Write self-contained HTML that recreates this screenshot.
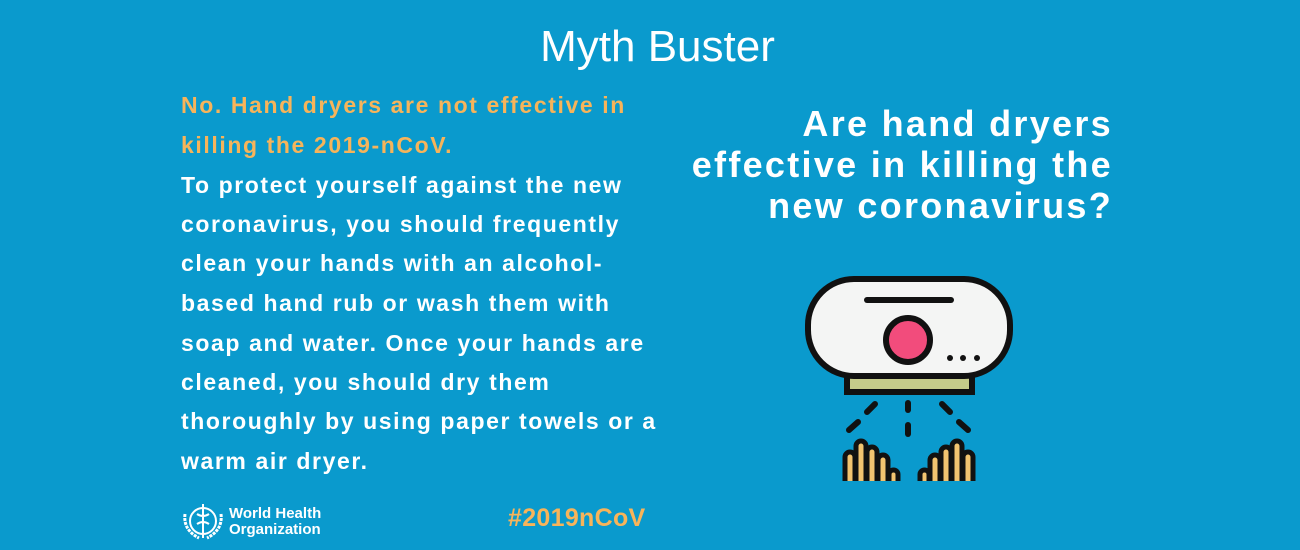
<!DOCTYPE html>
<html><head><meta charset="utf-8"><style>
body{margin:0;width:1300px;height:550px;background:#0a9acd;overflow:hidden;font-family:"Liberation Sans",sans-serif;position:relative}
.t{position:absolute;white-space:nowrap;font-weight:bold;color:#fff}
.l{left:181px;font-size:23px;letter-spacing:1.6px}
.o{color:#f7b45a}
.q{right:187px;font-size:36px;text-align:right;letter-spacing:2.3px}
</style></head><body>
<div class="t" style="left:0;width:1315px;text-align:center;top:22px;font-size:44px;font-weight:normal">Myth Buster</div>
<div>
<div class="t l o" style="top:92px">No. Hand dryers are not effective in</div>
<div class="t l o" style="top:132px">killing the 2019-nCoV.</div>
<div class="t l" style="top:172px">To protect yourself against the new</div>
<div class="t l" style="top:211px">coronavirus, you should frequently</div>
<div class="t l" style="top:250px">clean your hands with an alcohol-</div>
<div class="t l" style="top:290px">based hand rub or wash them with</div>
<div class="t l" style="top:330px">soap and water. Once your hands are</div>
<div class="t l" style="top:369px">cleaned, you should dry them</div>
<div class="t l" style="top:408px">thoroughly by using paper towels or a</div>
<div class="t l" style="top:448px">warm air dryer.</div>
</div>
<div>
<div class="t q" style="top:103px">Are hand dryers</div>
<div class="t q" style="top:144px">effective in killing the</div>
<div class="t q" style="top:185px">new coronavirus?</div>
</div>
<div class="t o" style="left:508px;top:504px;font-size:25px;letter-spacing:0.3px">#2019nCoV</div>
<div style="position:absolute;left:181px;top:500px">
<svg width="44" height="42" style="position:absolute;left:0;top:0"><circle cx="22" cy="21" r="13" fill="none" stroke="#fff" stroke-width="2"/><path d="M22 4v34M16 14q6 4 12 0M16 24q6-4 12 0" stroke="#fff" stroke-width="2" fill="none"/><path d="M4 14q-2 16 14 24M40 14q2 16-14 24" stroke="#fff" stroke-width="3" fill="none" stroke-dasharray="3 1"/></svg>
<div class="t" style="left:48px;top:6px;font-size:15px;line-height:16px;font-weight:bold">World Health<br>Organization</div>
</div>
<svg width="1300" height="550" style="position:absolute;left:0;top:0">
<g stroke="#111" stroke-width="6" stroke-linecap="round">
<rect x="847" y="370" width="125" height="22" fill="#c5cc8a"/>
<rect x="808" y="279" width="202" height="97" rx="46" fill="#f4f5f4"/>
<line x1="867" y1="300" x2="951" y2="300"/>
<circle cx="908" cy="340" r="22" fill="#f24c7c"/>
<line x1="875" y1="404" x2="867" y2="412"/><line x1="858" y1="422" x2="849" y2="430"/>
<line x1="908" y1="403" x2="908" y2="410"/><line x1="908" y1="425" x2="908" y2="434"/>
<line x1="942" y1="404" x2="950" y2="412"/><line x1="959" y1="422" x2="968" y2="430"/>
</g>
<g fill="#111"><circle cx="950" cy="358" r="3"/><circle cx="963" cy="358" r="3"/><circle cx="977" cy="358" r="3"/></g>
<g fill="#f2c470" stroke="#111" stroke-width="5" stroke-linejoin="round">
<rect x="845" y="452" width="10" height="34" rx="5"/>
<rect x="856" y="441" width="10" height="45" rx="5"/>
<rect x="867" y="447" width="10" height="39" rx="5"/>
<rect x="878" y="455" width="10" height="31" rx="5"/>
<rect x="889" y="470" width="9" height="16" rx="4.5"/>
<rect x="963" y="452" width="10" height="34" rx="5"/>
<rect x="952" y="441" width="10" height="45" rx="5"/>
<rect x="941" y="447" width="10" height="39" rx="5"/>
<rect x="930" y="455" width="10" height="31" rx="5"/>
<rect x="920" y="470" width="9" height="16" rx="4.5"/>
</g>
<rect x="830" y="481" width="160" height="20" fill="#0a9acd"/>
</svg>
</body></html>
